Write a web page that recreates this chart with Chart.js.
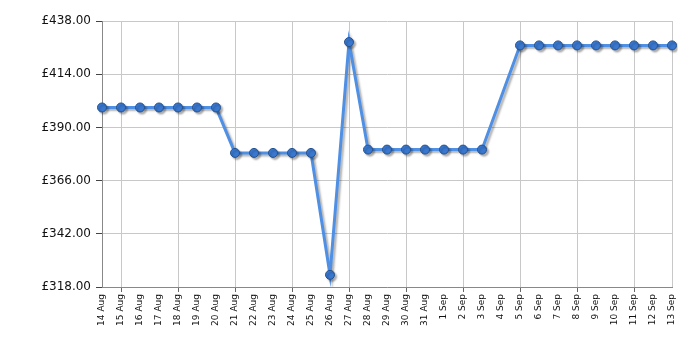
<!DOCTYPE html>
<html>
<head>
<meta charset="utf-8">
<script src="https://cdn.jsdelivr.net/npm/chart.js@4"></script>
<style>
  html, body { margin: 0; padding: 0; background: #fff; }
  #wrap { width: 700px; height: 350px; }
</style>
</head>
<body>
<div id="wrap"><canvas id="priceChart" width="700" height="350"></canvas></div>
<script>
let dayLabels = ['14 Aug','15 Aug','16 Aug','17 Aug','18 Aug','19 Aug','20 Aug','21 Aug','22 Aug','23 Aug',
  '24 Aug','25 Aug','26 Aug','27 Aug','28 Aug','29 Aug','30 Aug','31 Aug','1 Sep','2 Sep',
  '3 Sep','4 Sep','5 Sep','6 Sep','7 Sep','8 Sep','9 Sep','10 Sep','11 Sep','12 Sep','13 Sep']
let prices = [398.99,398.99,398.99,398.99,398.99,398.99,398.99,378.49,378.49,378.49,
  378.49,378.49,323.49,428.49,379.99,379.99,379.99,379.99,379.99,379.99,
  379.99,null,426.99,426.99,426.99,426.99,426.99,426.99,426.99,426.99,426.99]
let yTicks = [318,342,366,390,414,438]

// shadow under the line and points
const shadowPlugin = {
  id: 'shadow',
  beforeDatasetsDraw(chart) {
    const c = chart.ctx
    c.save()
    c.shadowColor = 'rgba(0,0,0,0.3)'
    c.shadowOffsetX = 2
    c.shadowOffsetY = 2
    c.shadowBlur = 2
  },
  afterDatasetsDraw(chart) {
    chart.ctx.restore()
  }
}

new Chart(document.getElementById('priceChart').getContext('2d'), {
  type: 'line',
  data: {
    labels: dayLabels,
    datasets: [{
      data: prices,
      borderColor: '#4f8fe4',
      borderWidth: 3,
      pointRadius: 4.5,
      pointBackgroundColor: '#3a78d0',
      pointBorderColor: '#24528f',
      pointBorderWidth: 1,
      spanGaps: true,
      tension: 0,
      fill: false
    }]
  },
  options: {
    responsive: false,
    animation: false,
    layout: { padding: { left: 0, right: 28, top: 21, bottom: 0 } },
    plugins: { legend: { display: false }, tooltip: { enabled: false } },
    scales: {
      x: {
        offset: false,
        afterFit: s => { s.height = 63 },
        grid: {
          color: ctx => (ctx.index % 3 === 1 || ctx.index === 30) ? '#c8c8c8' : 'rgba(0,0,0,0)',
          tickColor: ctx => (ctx.index % 3 === 1) ? '#666' : 'rgba(0,0,0,0)',
          tickLength: 5
        },
        border: { color: '#888' },
        ticks: {
          autoSkip: false,
          maxRotation: 90,
          minRotation: 90,
          color: '#111',
          padding: 2,
          font: { family: 'DejaVu Sans', size: 9 }
        }
      },
      y: {
        min: 318,
        max: 438,
        afterFit: s => { s.width = 102 },
        afterBuildTicks: s => { s.ticks = yTicks.map(v => ({ value: v })) },
        grid: { color: '#c8c8c8', tickColor: '#444', tickLength: 6 },
        border: { color: '#888' },
        ticks: {
          color: '#111',
          padding: 5,
          font: { family: 'DejaVu Sans', size: 12 },
          callback: v => '£' + Number(v).toFixed(2)
        }
      }
    }
  },
  plugins: [shadowPlugin]
})
</script>
</body>
</html>
